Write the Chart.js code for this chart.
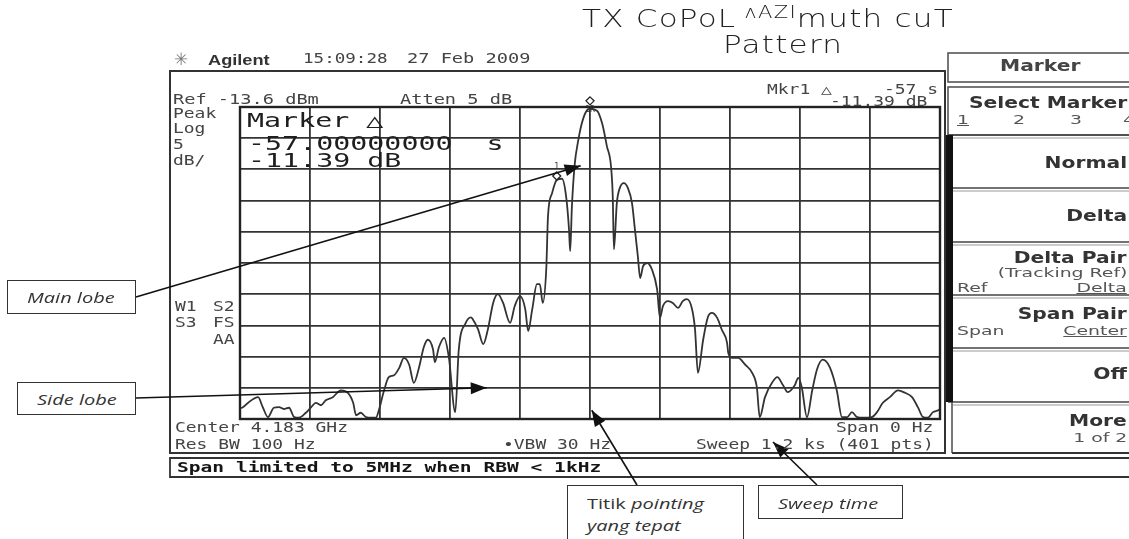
<!DOCTYPE html>
<html lang="en">
<head>
<meta charset="UTF-8">
<title>TX CoPol Azimuth Cut Pattern</title>
<script src="https://cdn.jsdelivr.net/npm/chart.js@4"></script>
<style>
  * { box-sizing: border-box; }
  body { margin: 0; background: #fff; }
  #wrap { position: relative; width: 1129px; height: 539px; overflow: hidden; }
  #wrap canvas { position: absolute; left: 0; top: 0; }
  .t { position: absolute; white-space: pre; line-height: 1; pointer-events: none; }
  .sa { font-family: 'DejaVu Sans Mono', monospace; font-size: 13.5px; color: #444; transform: scaleX(1.33); transform-origin: left top; }
  .big { font-family: 'DejaVu Sans Mono', monospace; font-size: 19px; color: #1e1e1e; transform: scaleX(1.49); transform-origin: left top; }
  .bar { font-family: 'DejaVu Sans Mono', monospace; font-size: 13.5px; font-weight: bold; color: #151515; transform: scaleX(1.45); transform-origin: left top; }
  .sk { font-family: 'DejaVu Sans', sans-serif; font-size: 15px; font-weight: bold; color: #333; right: 2px; transform: scaleX(1.35); transform-origin: right top; }
  .sks { font-family: 'DejaVu Sans', sans-serif; font-size: 13px; color: #555; transform: scaleX(1.45); transform-origin: left top; }
  .sks.r { right: 2px; transform-origin: right top; }
  .u { text-decoration: underline; }
  .note { position: absolute; background: #fff; border: 1.5px solid #333; }
  .note span { position: absolute; white-space: pre; font-family: 'Open Sans', sans-serif; font-size: 14px; font-style: italic; color: #333; transform: scaleX(1.43); transform-origin: left top; line-height: 1; }
  .hand { font-family: 'DejaVu Sans', sans-serif; font-weight: 200; font-size: 25px; color: #222; transform: scaleX(1.24); transform-origin: left top; letter-spacing: 1px; }
  .hand .sm { font-size: 17px; position: relative; top: -9px; }
  .mk { font-family: 'DejaVu Sans Mono', monospace; font-size: 8px; color: #333; transform: translateX(-50%); }
</style>
</head>
<body>
<div id="wrap">
  <canvas id="scope" width="1129" height="539"></canvas>

  <!-- handwritten title -->
  <div class="t hand" style="left:582px; top:6px;">TX CoPoL<span class="sm"> ʌAZI</span>muth cuT</div>
  <div class="t hand" style="left:723px; top:32px;">Pattern</div>

  <!-- analyzer header -->
  <div class="t" style="left:174px; top:51px; font-family:'DejaVu Sans'; font-size:17px; color:#777;">✳</div>
  <div class="t" style="left:208px; top:53px; font-family:'Liberation Sans'; font-weight:bold; font-size:14px; color:#333; transform:scaleX(1.3); transform-origin:left top;">Agilent</div>
  <div class="t sa" style="left:303px; top:52px; transform:scaleX(1.3);">15:09:28</div>
  <div class="t sa" style="left:407px; top:52px; transform:scaleX(1.38);">27 Feb 2009</div>

  <div class="t sa" style="left:173px; top:93px; transform:scaleX(1.38);">Ref -13.6 dBm</div>
  <div class="t sa" style="left:400px; top:93px; transform:scaleX(1.38);">Atten 5 dB</div>
  <div class="t sa" style="left:767px; top:83px;">Mkr1 △</div>
  <div class="t sa" style="left:884px; top:83px;">-57 s</div>
  <div class="t sa" style="left:830px; top:95px;">-11.39 dB</div>

  <div class="t sa" style="left:173px; top:107px;">Peak</div>
  <div class="t sa" style="left:173px; top:122px;">Log</div>
  <div class="t sa" style="left:173px; top:138px;">5</div>
  <div class="t sa" style="left:173px; top:154px;">dB/</div>
  <div class="t sa" style="left:175px; top:300px;">W1</div>
  <div class="t sa" style="left:213px; top:300px;">S2</div>
  <div class="t sa" style="left:175px; top:316px;">S3</div>
  <div class="t sa" style="left:213px; top:316px;">FS</div>
  <div class="t sa" style="left:213px; top:333px;">AA</div>

  <div class="t big" style="left:247px; top:111px;">Marker △</div>
  <div class="t big" style="left:248px; top:134px;">-57.00000000  s</div>
  <div class="t big" style="left:248px; top:151px;">-11.39 dB</div>

  <div class="t sa" style="left:175px; top:421px;">Center 4.183 GHz</div>
  <div class="t sa" style="left:175px; top:438px;">Res BW 100 Hz</div>
  <div class="t sa" style="left:503px; top:438px;">•VBW 30 Hz</div>
  <div class="t sa" style="left:836px; top:421px;">Span 0 Hz</div>
  <div class="t sa" style="left:696px; top:438px;">Sweep 1.2 ks (401 pts)</div>
  <div class="t bar" style="left:177px; top:461px;">Span limited to 5MHz when RBW &lt; 1kHz</div>

  <!-- softkey menu -->
  <div class="t sk" style="right:auto; left:1000px; top:59px; transform-origin:left top; color:#444;">Marker</div>
  <div class="t sk" style="top:96px;">Select Marker</div>
  <div class="t sks u" style="left:957px; top:113px;">1</div>
  <div class="t sks" style="left:1013px; top:113px;">2</div>
  <div class="t sks" style="left:1070px; top:113px;">3</div>
  <div class="t sks" style="left:1123px; top:113px;">4</div>
  <div class="t sk" style="top:156px;">Normal</div>
  <div class="t sk" style="top:209px;">Delta</div>
  <div class="t sk" style="top:251px;">Delta Pair</div>
  <div class="t sks r" style="top:266px;">(Tracking Ref)</div>
  <div class="t sks" style="left:957px; top:281px;">Ref</div>
  <div class="t sks r u" style="top:281px;">Delta</div>
  <div class="t sk" style="top:307px;">Span Pair</div>
  <div class="t sks" style="left:957px; top:324px;">Span</div>
  <div class="t sks r u" style="top:324px;">Center</div>
  <div class="t sk" style="top:367px;">Off</div>
  <div class="t sk" style="top:414px;">More</div>
  <div class="t sks r" style="top:431px;">1 of 2</div>

  <!-- marker labels, placed from the marker data -->
  <div class="t mk" id="mk0">1</div>
  <div class="t mk" id="mk1">1R</div>

  <!-- annotation boxes -->
  <div class="note" style="left:7px; top:280px; width:129px; height:34px;"><span style="left:19px; top:10px;">Main lobe</span></div>
  <div class="note" style="left:17px; top:382px; width:119px; height:33px;"><span style="left:19px; top:10px;">Side lobe</span></div>
  <div class="note" style="left:567px; top:485px; width:177px; height:60px;"><span style="left:19px; top:11px;"><span style="position:static; font-style:normal; transform:none;">Titik </span>pointing</span><span style="left:19px; top:33px;">yang tepat</span></div>
  <div class="note" style="left:758px; top:485px; width:145px; height:34px;"><span style="left:19px; top:11px;">Sweep time</span></div>
</div>

<script>
// zero span sweep: 401 pts over 1.2 ks, ref level -13.6 dBm at 5 dB/div
const sweepGrid = [0, 120, 240, 360, 480, 600, 720, 840, 960, 1080, 1200];
const levelGrid = [-63.6, -58.6, -53.6, -48.6, -43.6, -38.6, -33.6, -28.6, -23.6, -18.6, -13.6];

// trace, time in s and level in dBm
const sweepTime = [
  0, 5, 15, 31, 39, 48, 58, 67, 75, 84,
  93, 101, 113, 122, 130, 139, 147, 159, 173, 185,
  194, 199, 207, 216, 225, 233, 238, 247, 255, 264,
  273, 281, 290, 298, 307, 315, 322, 331, 334, 341,
  350, 358, 369, 375, 387, 396, 399, 408, 417, 425,
  434, 442, 451, 463, 471, 480, 489, 494, 501, 509,
  514, 519, 525, 528, 535, 543, 552, 559, 564, 566,
  569, 574, 579, 586, 595, 600, 612, 621, 629, 636,
  639, 641, 646, 651, 658, 665, 672, 677, 682, 686,
  691, 698, 706, 715, 720, 725, 734, 742, 751, 759,
  766, 775, 780, 785, 794, 802, 809, 818, 826, 835,
  837, 843, 854, 866, 878, 886, 891, 900, 912, 921,
  931, 939, 951, 957, 963, 972, 981, 989, 999, 1011,
  1023, 1032, 1041, 1049, 1058, 1068, 1083, 1092, 1102, 1114,
  1128, 1140, 1152, 1162, 1171, 1179, 1188, 1197, 1200
];
const traceLevel = [
  -61.9, -61.7, -60.9, -60.1, -61.7, -63.3, -61.8, -61.7, -62.0, -61.8,
  -63.3, -63.4, -62.6, -61.7, -61.0, -61.4, -60.6, -60.1, -59.0, -59.4,
  -61.0, -63.0, -62.6, -63.3, -63.4, -63.4, -62.2, -59.0, -56.9, -56.6,
  -55.4, -53.8, -54.9, -57.8, -55.3, -52.1, -50.9, -52.5, -54.5, -52.1,
  -50.6, -53.7, -62.5, -52.5, -48.2, -47.3, -47.6, -49.2, -51.6, -49.2,
  -45.0, -43.6, -45.0, -48.2, -45.5, -43.9, -46.0, -49.5, -46.0, -42.0,
  -42.0, -45.0, -39.6, -31.1, -27.4, -25.3, -25.1, -27.9, -33.2, -36.7,
  -29.5, -22.6, -19.4, -16.2, -14.1, -13.9, -14.2, -16.3, -19.9, -23.1,
  -27.9, -36.4, -29.0, -26.6, -25.8, -26.6, -29.0, -33.2, -37.5, -41.0,
  -39.1, -38.6, -39.6, -42.8, -47.4, -45.5, -44.7, -45.0, -45.8, -44.7,
  -44.4, -46.0, -49.2, -56.2, -50.9, -47.3, -46.6, -47.4, -49.3, -51.4,
  -53.0, -53.8, -53.8, -54.9, -56.2, -58.5, -63.3, -60.1, -57.8, -56.9,
  -58.2, -59.3, -58.2, -57.0, -58.5, -63.3, -59.0, -55.7, -54.1, -55.3,
  -59.0, -63.3, -63.3, -62.5, -63.3, -63.4, -63.3, -62.5, -61.0, -60.1,
  -59.0, -59.4, -60.1, -61.7, -63.3, -63.4, -62.5, -62.2, -62.0
];

// marker 1 and its reference (delta -57 s, -11.39 dB)
const markerTime = [543, 600];
const markerLevel = [-25.3, -13.9];

// callouts: tail on the page, tip on the trace (s, dBm) or on the page
const callouts = [
  { from: [136, 297], tipAt: [584, -23.0] },
  { from: [136, 398], tipAt: [423, -58.6] },
  { from: [637, 485], tipAt: [603, -62.2] },
  { from: [817, 485], tip: [773, 442] }
];

const ink = '#333';

function seg(ctx, x1, y1, x2, y2, w, c) {
  ctx.beginPath();
  ctx.moveTo(x1, y1);
  ctx.lineTo(x2, y2);
  ctx.lineWidth = w;
  ctx.strokeStyle = c || ink;
  ctx.stroke();
}

function box(ctx, x1, y1, x2, y2, w, c) {
  ctx.lineWidth = w;
  ctx.strokeStyle = c || ink;
  ctx.strokeRect(x1, y1, x2 - x1, y2 - y1);
}

function arrow(ctx, x1, y1, x2, y2) {
  seg(ctx, x1, y1, x2, y2, 1.6, '#111');
  const a = Math.atan2(y2 - y1, x2 - x1), L = 16, W = 6;
  ctx.beginPath();
  ctx.moveTo(x2, y2);
  ctx.lineTo(x2 - L * Math.cos(a) + W * Math.sin(a), y2 - L * Math.sin(a) - W * Math.cos(a));
  ctx.lineTo(x2 - L * Math.cos(a) - W * Math.sin(a), y2 - L * Math.sin(a) + W * Math.cos(a));
  ctx.closePath();
  ctx.fillStyle = '#111';
  ctx.fill();
}

const scopeFrame = {
  id: 'scopeFrame',
  afterDraw(chart) {
    const ctx = chart.ctx;
    const a = chart.chartArea;
    const xs = chart.scales.x, ys = chart.scales.y;
    ctx.save();

    // plot border
    box(ctx, a.left, a.top, a.right, a.bottom, 2.4, '#222');

    // screen frame and status line
    box(ctx, 170, 71, 945, 453, 2, ink);
    seg(ctx, 170, 458, 1129, 458, 1.8, ink);
    seg(ctx, 170, 477, 1129, 477, 1.8, ink);
    seg(ctx, 170, 457, 170, 478, 1.8, ink);

    // softkey panel
    box(ctx, 948, 53, 1140, 82, 1.6, '#555');
    box(ctx, 948, 87, 1140, 135, 1.6, '#555');
    seg(ctx, 952, 135, 952, 453, 1.6, '#555');
    [135, 188, 242, 295, 348, 402].forEach(y => {
      seg(ctx, 948, y, 1129, y, 1.6, '#444');
      seg(ctx, 953, y + 3, 1129, y + 3, 1, '#999');
    });
    seg(ctx, 952, 453, 1129, 453, 1.8, ink);
    ctx.fillStyle = '#111';
    ctx.fillRect(946, 135, 7, 267);

    // marker diamonds
    markerTime.forEach((t, i) => {
      const px = xs.getPixelForValue(t);
      const py = ys.getPixelForValue(markerLevel[i]) - (i === 1 ? 8 : 4);
      ctx.beginPath();
      ctx.moveTo(px, py - 4); ctx.lineTo(px + 4, py); ctx.lineTo(px, py + 4); ctx.lineTo(px - 4, py);
      ctx.closePath();
      ctx.fillStyle = '#fff';
      ctx.fill();
      ctx.lineWidth = 1.3;
      ctx.strokeStyle = '#222';
      ctx.stroke();
      const lab = document.getElementById('mk' + i);
      lab.style.left = px + 'px';
      lab.style.top = (i === 1 ? py + 5 : py - 13) + 'px';
    });

    // annotation arrows
    callouts.forEach(c => {
      const tip = c.tip || [xs.getPixelForValue(c.tipAt[0]), ys.getPixelForValue(c.tipAt[1])];
      arrow(ctx, c.from[0], c.from[1], tip[0], tip[1]);
    });
    ctx.restore();
  }
};

new Chart(document.getElementById('scope'), {
  type: 'line',
  data: {
    datasets: [{
      data: sweepTime.map((t, i) => ({ x: t, y: traceLevel[i] })),
      borderColor: '#333',
      borderWidth: 1.8,
      pointRadius: 0,
      cubicInterpolationMode: 'monotone',
      fill: false
    }]
  },
  options: {
    responsive: false,
    animation: false,
    events: [],
    layout: { padding: { left: 240, top: 107, right: 189, bottom: 120 } },
    plugins: { legend: { display: false }, tooltip: { enabled: false } },
    scales: {
      x: {
        type: 'linear', min: 0, max: 1200,
        afterBuildTicks: s => { s.ticks = sweepGrid.map(v => ({ value: v })); },
        ticks: { display: false },
        grid: { color: '#333', lineWidth: 1.8, drawTicks: false },
        border: { display: false }
      },
      y: {
        type: 'linear', min: -63.6, max: -13.6,
        afterBuildTicks: s => { s.ticks = levelGrid.map(v => ({ value: v })); },
        ticks: { display: false },
        grid: { color: '#333', lineWidth: 1.8, drawTicks: false },
        border: { display: false }
      }
    }
  },
  plugins: [scopeFrame]
});
</script>
</body>
</html>
